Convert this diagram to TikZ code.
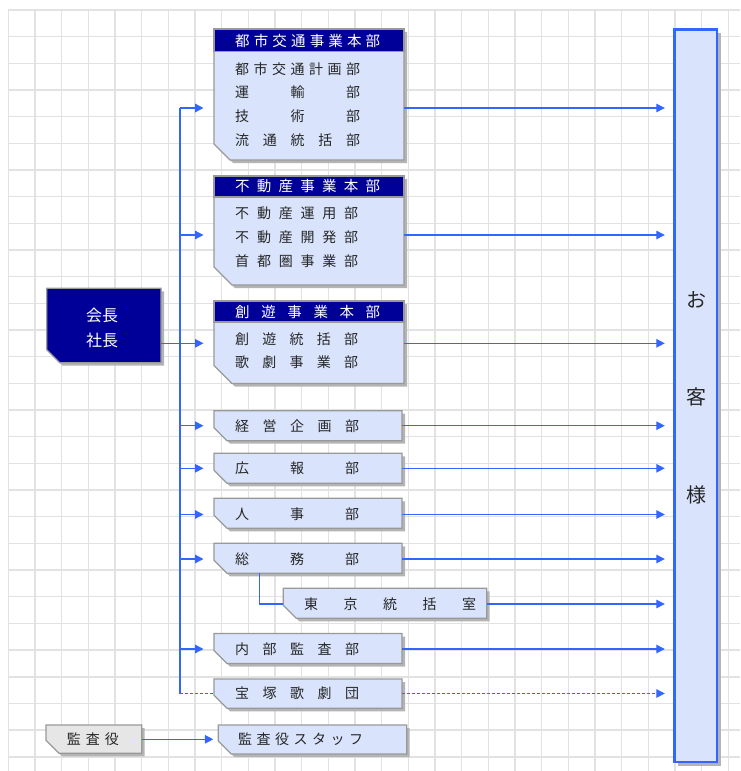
\documentclass[tikz,border=0pt]{standalone}
\usepackage{fontspec}
\newfontfamily\jp{Noto Sans CJK JP}
\usetikzlibrary{arrows.meta}
\definecolor{navy}{HTML}{000099}
\definecolor{boxfill}{HTML}{D9E4FC}
\definecolor{lineblue}{HTML}{3366FF}
\definecolor{gridc}{HTML}{E2E2E2}
\definecolor{shadowc}{HTML}{B4B4B4}
\definecolor{borderc}{HTML}{999999}
\definecolor{txt}{HTML}{262626}
\definecolor{graybox}{HTML}{E6E6E6}
\makeatletter
\newcommand\spreadin[2]{\hbox to #1pt{\sprd@loop#2\@nil}}
\def\sprd@loop#1#2\@nil{#1\ifx\relax#2\relax\else\hfill\sprd@loop#2\@nil\fi}
\makeatother
% #1 x1, #2 y1, #3 x2, #4 y2, #5 fill, #6 name, #7 connection y, #8 chamfer
\newcommand\chbox[8]{%
  \fill[shadowc] ({#1+3},{#2+3}) -- ({#3+3},{#2+3}) -- ({#3+3},{#4+3}) -- ({#1+#8+3},{#4+3}) -- ({#1+3},{#4-#8+3}) -- cycle;
  \draw[borderc,line width=1.3pt,fill=#5] (#1,#2) -- (#3,#2) -- (#3,#4) -- ({#1+#8},#4) -- (#1,{#4-#8}) -- cycle;
  \node[inner sep=0,outer sep=0,minimum width={#3-#1},minimum height={#4-#2}] (#6) at ({(#1+#3)/2},{(#2+#4)/2}) {};
  \coordinate (#6-in) at (#1,#7);
  \coordinate (#6-out) at (#3,#7);
}
% header band: #1 x1, #2 y1, #3 x2, #4 y-bottom of band
\newcommand\hband[4]{%
  \fill[navy] (#1,#2) rectangle (#3,#4);
  \draw[borderc,line width=1.3pt] (#1,#2) rectangle (#3,#4);
}
\tikzset{
  body/.style={inner sep=0,anchor=west,text=txt,font=\jp\fontsize{14}{14}\selectfont},
  head/.style={inner sep=0,anchor=west,text=white,font=\jp\fontsize{14.5}{14.5}\selectfont},
  conn/.style={draw=lineblue,line width=1.3pt},
  arr/.style={conn,-{Triangle[length=8.5pt,width=8.5pt]}},
}
\begin{document}
\begin{tikzpicture}[x=1pt,y=-1pt]
\useasboundingbox (0,0) rectangle (740,771);
\fill[white] (0,0) rectangle (740,771);
% grid
\foreach \i in {0,...,27} \draw[gridc,line width=1.5pt] ({8.3+26.67*\i},10) -- ({8.3+26.67*\i},771);
\foreach \j in {0,...,28} \draw[gridc,line width=1.5pt] (8.3,{10+26.67*\j}) -- (740,{10+26.67*\j});

% 都市交通事業本部
\chbox{214}{29}{404}{160}{boxfill}{toshi}{108}{16}
\hband{214}{29}{404}{51.5}
\node[head] (toshi-h) at (235,40.5) {\spreadin{145}{都市交通事業本部}};
\node[body] (toshi-t1) at (235,69) {\spreadin{125}{都市交通計画部}};
\node[body] (toshi-t2) at (235,92) {\spreadin{125}{運輸部}};
\node[body] (toshi-t3) at (235,116) {\spreadin{125}{技術部}};
\node[body] (toshi-t4) at (235,140) {\spreadin{125}{流通統括部}};

% 不動産事業本部
\chbox{214}{176}{404}{285}{boxfill}{fudo}{235}{18}
\hband{214}{176}{404}{197}
\node[head] (fudo-h) at (235,186.5) {\spreadin{145}{不動産事業本部}};
\node[body] (fudo-t1) at (235,213.5) {\spreadin{123}{不動産運用部}};
\node[body] (fudo-t2) at (235,237.5) {\spreadin{123}{不動産開発部}};
\node[body] (fudo-t3) at (235,261) {\spreadin{123}{首都圏事業部}};

% 創遊事業本部
\chbox{214}{301}{404}{383.5}{boxfill}{soyu}{343.3}{18}
\hband{214}{301}{404}{322}
\node[head] (soyu-h) at (235,311.5) {\spreadin{145}{創遊事業本部}};
\node[body] (soyu-t1) at (235,339.5) {\spreadin{123}{創遊統括部}};
\node[body] (soyu-t2) at (235,362) {\spreadin{123}{歌劇事業部}};

% single-line boxes
\chbox{214}{410.7}{402}{440.7}{boxfill}{keiei}{425.7}{13}
\node[body] (keiei-t) at (235,425.7) {\spreadin{124}{経営企画部}};
\chbox{214}{453.3}{402}{483.3}{boxfill}{koho}{468.3}{13}
\node[body] (koho-t) at (235,468.3) {\spreadin{124}{広報部}};
\chbox{214}{498.3}{402}{528.3}{boxfill}{jinji}{514.5}{13}
\node[body] (jinji-t) at (235,514.5) {\spreadin{124}{人事部}};
\chbox{214}{543.3}{402}{573.3}{boxfill}{somu}{559}{13}
\node[body] (somu-t) at (235,559) {\spreadin{124}{総務部}};
\chbox{283.3}{588.3}{486.7}{618.3}{boxfill}{tokyo}{604}{13}
\node[body] (tokyo-t) at (304,604) {\spreadin{172}{東京統括室}};
\chbox{214}{633.5}{402}{663.5}{boxfill}{naibu}{649}{13}
\node[body] (naibu-t) at (235,649) {\spreadin{124}{内部監査部}};
\chbox{214}{679}{402}{708.3}{boxfill}{takara}{693.5}{13}
\node[body] (takara-t) at (235,693.5) {\spreadin{124}{宝塚歌劇団}};

% 監査役 / staff
\chbox{46}{725}{141.7}{753.3}{graybox}{kansa}{739.3}{13}
\node[body] (kansa-t) at (66.7,739.3) {\spreadin{52}{監査役}};
\chbox{218.3}{725}{406.7}{754}{boxfill}{staff}{739.3}{13}
\node[body] (staff-t) at (238,739.3) {\spreadin{125}{監査役スタッフ}};

% 会長 社長
\chbox{46.7}{288.3}{161}{362.7}{navy}{kaicho}{343.3}{13}
\node[text=white,font=\jp\fontsize{16}{16}\selectfont,inner sep=0] (kaicho-t1) at (102,315) {会長};
\node[text=white,font=\jp\fontsize{16}{16}\selectfont,inner sep=0] (kaicho-t2) at (102,340) {社長};

% お客様
\fill[shadowc] (678,33) rectangle (721,765.5);
\draw[lineblue,line width=2.3pt,fill=boxfill] (674.5,29.5) rectangle (717.3,761.7);
\node[inner sep=0,minimum width=43,minimum height=732] (kyaku) at (696,395.6) {};
\node[text=txt,font=\jp\fontsize{20}{20}\selectfont,inner sep=0] (kyaku-t1) at (696,299.5) {お};
\node[text=txt,font=\jp\fontsize{20}{20}\selectfont,inner sep=0] (kyaku-t2) at (696,397) {客};
\node[text=txt,font=\jp\fontsize{20}{20}\selectfont,inner sep=0] (kyaku-t3) at (696,495) {様};

% trunk
\coordinate (tr) at (180,0);
\draw[conn] (tr |- toshi-in) -- (tr |- takara-in);
\draw[conn,dashed,dash pattern=on 3pt off 2pt] (tr |- takara-in) -- (takara-in);
\foreach \b in {toshi,fudo,keiei,koho,jinji,somu,naibu}
  \draw[arr,shorten >=10.5pt] (tr |- \b-in) -- (\b-in);
\draw[arr,shorten >=10.5pt] (kaicho-out) -- (soyu-in);
% to customers
\foreach \b in {toshi,fudo,soyu,keiei,koho,jinji,somu,tokyo,naibu}
  \draw[arr,shorten >=9.5pt] (\b-out) -- (kyaku.west |- \b-out);
\draw[arr,dashed,dash pattern=on 3pt off 2pt,shorten >=9.5pt] (takara-out) -- (kyaku.west |- takara-out);
% 総務部 -> 東京統括室
\draw[conn] ([xshift=45.3pt]somu.south west) |- (tokyo-in);
% 監査役 -> staff
\draw[arr,shorten >=5pt] (kansa-out) -- (staff-in);
\end{tikzpicture}
\end{document}
